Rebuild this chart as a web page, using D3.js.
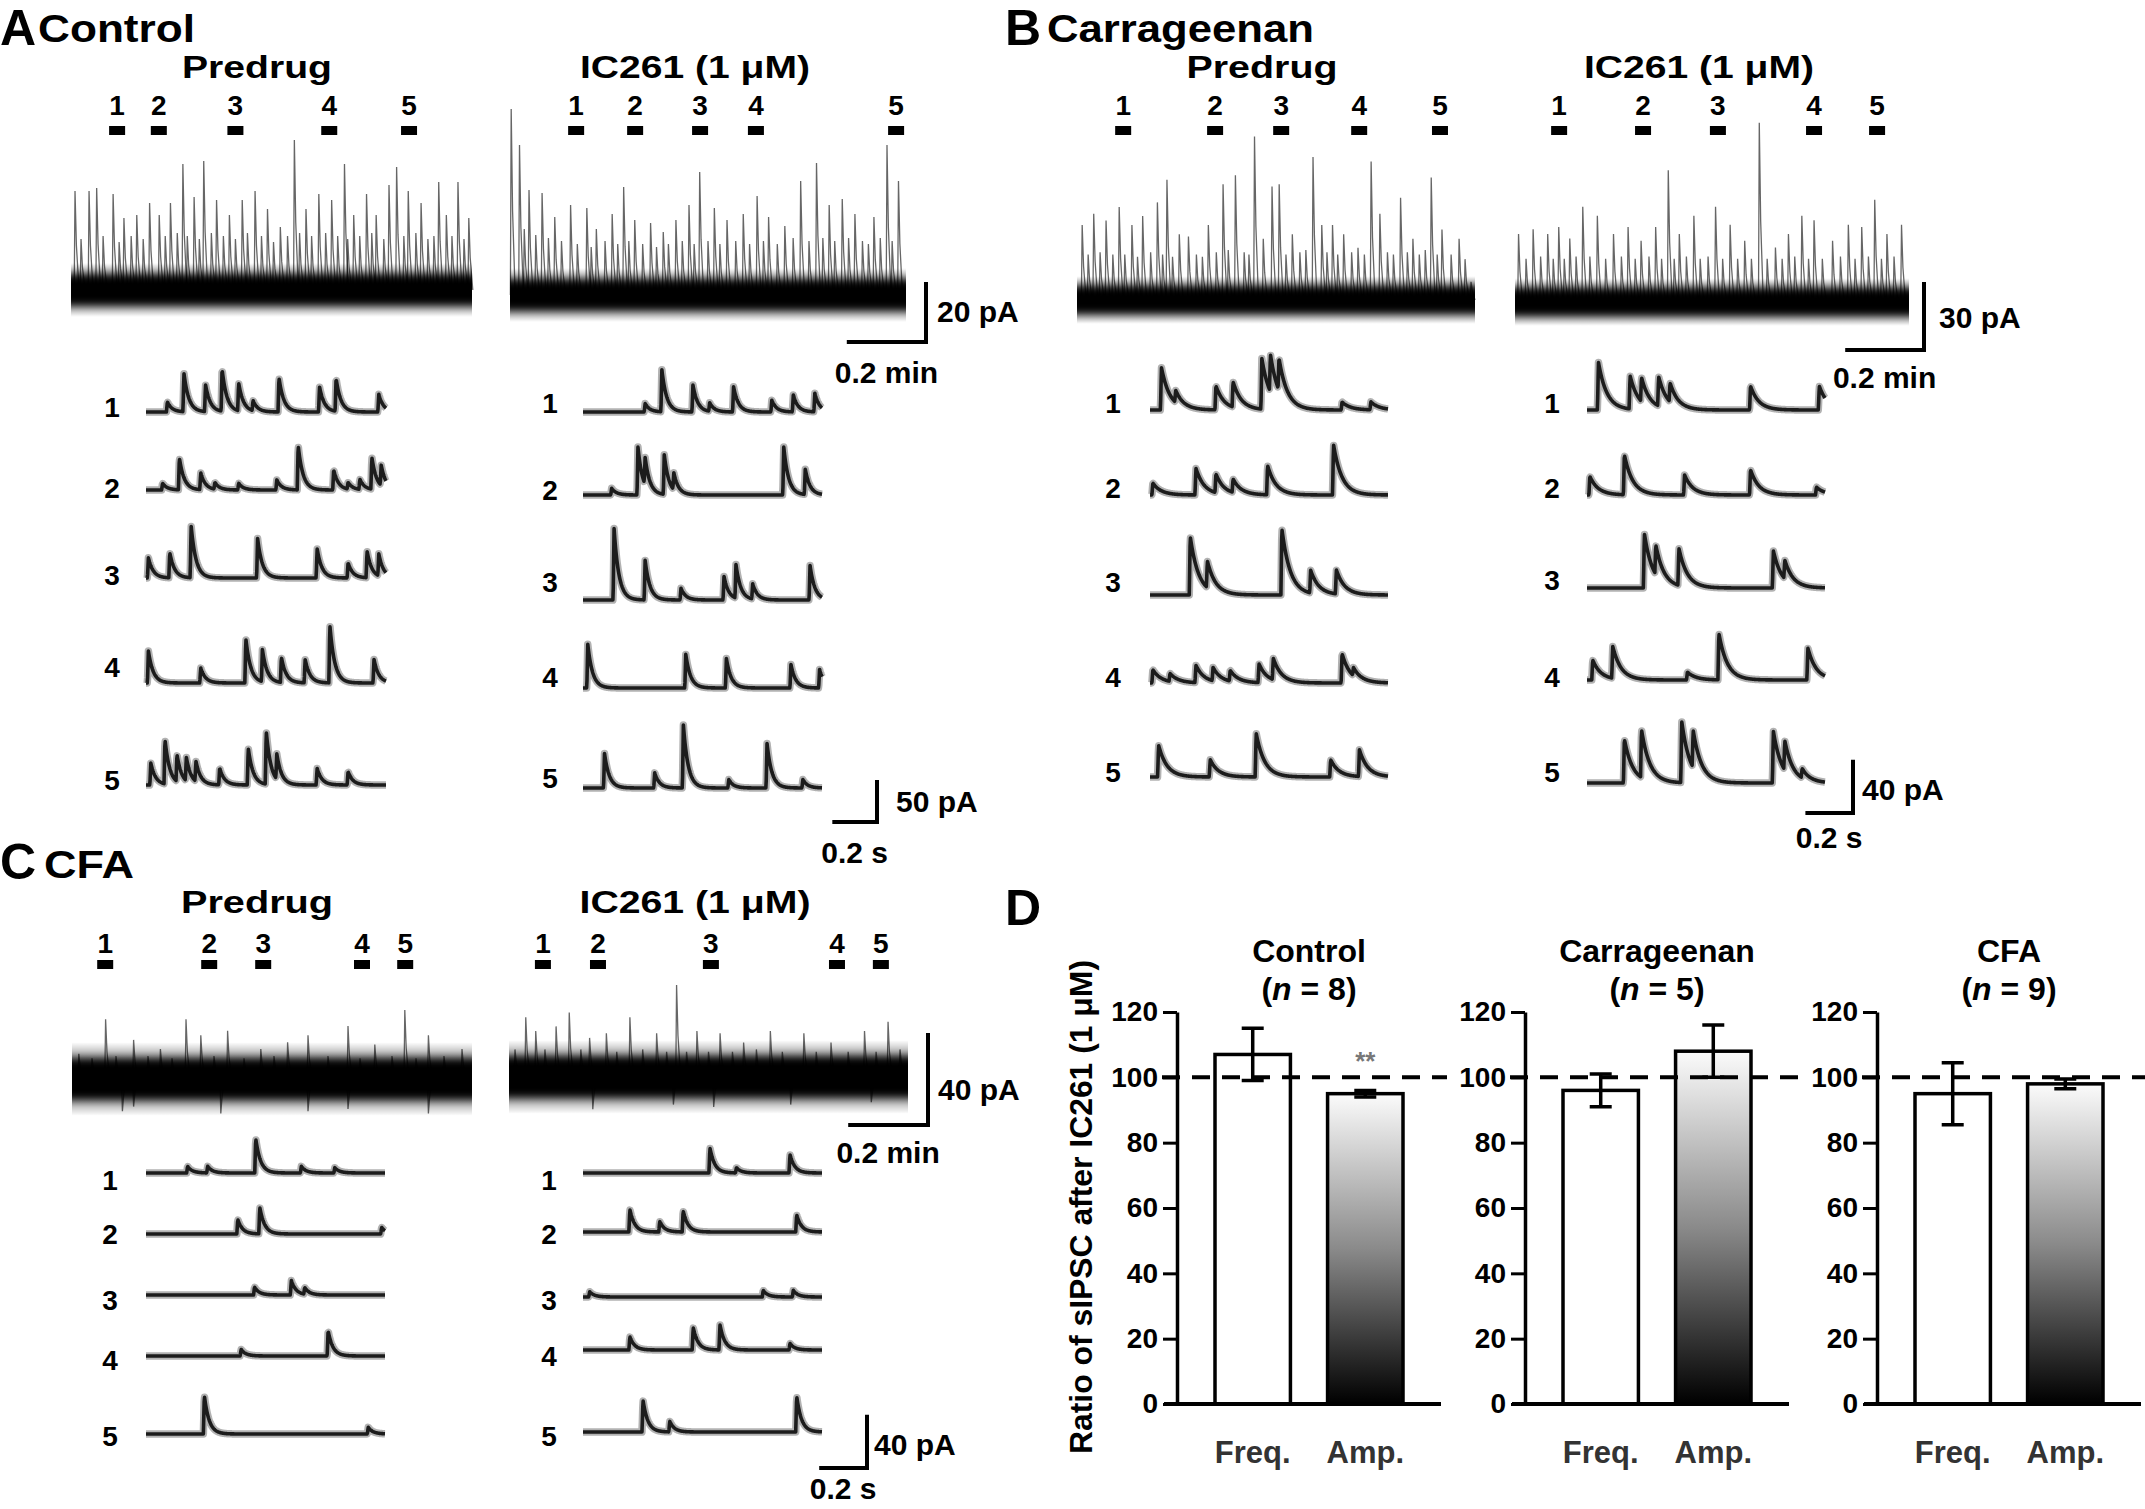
<!DOCTYPE html>
<html><head><meta charset="utf-8">
<script src="https://cdn.jsdelivr.net/npm/d3@7"></script>
<style>body{margin:0;background:#fff}</style>
</head><body>
<script>
// ================= DATA =================
// Panel D: ratio of sIPSC after IC261 (1 uM), % of predrug
const groupNames = ["Control", "Carrageenan", "CFA"];
const groupN = [8, 5, 9];
const barLabels = ["Freq.", "Amp."];
const freqMean = [107, 96, 95];
const freqSem = [8, 5, 9.5];
const ampMean = [95, 108, 98];
const ampSem = [1, 8, 1.5];
const ampSig = ["**", "", ""];
const ratioTicks = [0, 20, 40, 60, 80, 100, 120];

// segment markers (position along the 1-min sweep, min)
const markerLabels = ["1", "2", "3", "4", "5"];
const markA_pre = [0.115, 0.219, 0.41, 0.644, 0.843];
const markA_ic  = [0.167, 0.316, 0.48, 0.621, 0.975];
const markB_pre = [0.116, 0.347, 0.513, 0.709, 0.912];
const markB_ic  = [0.112, 0.325, 0.515, 0.759, 0.919];
const markC_pre = [0.083, 0.343, 0.478, 0.725, 0.833];
const markC_ic  = [0.085, 0.223, 0.506, 0.822, 0.932];

// long sweeps: [time (min), peak pA above baseline]
const longA_pre = [[0.01,33],[0.025,17],[0.045,33],[0.064,34],[0.08,18],[0.105,32],[0.12,16],[0.132,24],[0.15,18],[0.164,25],[0.18,17],[0.196,29],[0.22,25],[0.235,18],[0.248,29],[0.265,19],[0.279,42],[0.29,18],[0.307,31],[0.32,17],[0.331,43],[0.35,19],[0.363,30],[0.38,18],[0.395,25],[0.41,17],[0.427,30],[0.44,19],[0.459,33],[0.475,18],[0.49,27],[0.505,16],[0.522,21],[0.54,18],[0.557,50],[0.57,19],[0.586,27],[0.6,18],[0.618,32],[0.635,19],[0.65,30],[0.665,18],[0.682,42],[0.69,17],[0.705,25],[0.72,18],[0.737,32],[0.75,19],[0.761,25],[0.78,17],[0.793,35],[0.812,41],[0.83,18],[0.841,33],[0.86,19],[0.873,29],[0.89,17],[0.905,18],[0.917,36],[0.936,25],[0.95,18],[0.965,36],[0.98,17],[0.992,24]];
const longA_ic = [[0.003,62],[0.024,50],[0.036,22],[0.048,35],[0.065,20],[0.081,34],[0.097,19],[0.113,26],[0.13,18],[0.153,30],[0.17,17],[0.194,29],[0.205,16],[0.218,22],[0.24,18],[0.258,27],[0.272,17],[0.287,36],[0.3,18],[0.315,25],[0.335,17],[0.355,24],[0.37,16],[0.387,21],[0.4,17],[0.419,25],[0.435,18],[0.452,30],[0.465,17],[0.479,41],[0.5,18],[0.516,29],[0.53,17],[0.548,25],[0.57,18],[0.589,27],[0.605,17],[0.624,33],[0.64,18],[0.653,26],[0.675,17],[0.694,23],[0.715,19],[0.734,38],[0.755,18],[0.774,44],[0.79,19],[0.806,30],[0.82,18],[0.839,32],[0.855,19],[0.871,27],[0.89,18],[0.905,17],[0.919,26],[0.935,19],[0.952,50],[0.965,18],[0.981,38]];
const longB_pre = [[0.013,33],[0.028,20],[0.042,38],[0.058,21],[0.073,35],[0.09,20],[0.106,41],[0.12,20],[0.138,33],[0.152,19],[0.165,37],[0.185,21],[0.202,43],[0.215,20],[0.226,53],[0.24,19],[0.257,29],[0.28,28],[0.3,20],[0.315,19],[0.33,33],[0.35,21],[0.367,51],[0.38,22],[0.398,55],[0.42,21],[0.432,20],[0.446,72],[0.468,27],[0.49,50],[0.508,51],[0.525,20],[0.541,29],[0.56,21],[0.575,22],[0.593,63],[0.615,33],[0.628,21],[0.642,33],[0.655,20],[0.67,29],[0.69,21],[0.706,23],[0.722,20],[0.739,61],[0.761,38],[0.78,21],[0.795,20],[0.813,45],[0.83,21],[0.844,27],[0.86,20],[0.875,22],[0.89,54],[0.905,20],[0.917,31],[0.94,20],[0.96,27],[0.975,18],[0.99,8]];
const longB_ic = [[0.009,30],[0.028,19],[0.046,32],[0.065,20],[0.083,30],[0.097,19],[0.111,33],[0.125,19],[0.139,28],[0.155,20],[0.172,42],[0.19,20],[0.209,38],[0.23,19],[0.25,30],[0.27,20],[0.287,33],[0.305,19],[0.32,27],[0.34,20],[0.357,33],[0.372,19],[0.389,58],[0.404,19],[0.417,30],[0.435,20],[0.454,38],[0.47,19],[0.49,20],[0.509,42],[0.527,19],[0.546,34],[0.565,19],[0.583,27],[0.6,19],[0.62,79],[0.64,19],[0.661,24],[0.678,19],[0.694,30],[0.71,20],[0.728,38],[0.745,19],[0.759,36],[0.78,19],[0.806,27],[0.826,20],[0.846,34],[0.863,19],[0.88,33],[0.897,20],[0.913,45],[0.93,19],[0.944,30],[0.962,20],[0.981,34]];
const longC_pre = [[0.017,11],[0.05,9],[0.084,26],[0.11,10],[0.126,-14],[0.154,17],[0.154,-12],[0.19,10],[0.221,13],[0.25,9],[0.285,26],[0.322,19],[0.355,10],[0.372,-15],[0.389,21],[0.43,9],[0.472,13],[0.505,10],[0.539,16],[0.59,19],[0.59,-14],[0.64,10],[0.69,23],[0.69,-13],[0.72,9],[0.757,15],[0.8,10],[0.832,30],[0.86,9],[0.891,19],[0.891,-15],[0.93,10],[0.975,13]];
const longC_ic = [[0.015,12],[0.042,26],[0.067,20],[0.09,12],[0.118,22],[0.151,28],[0.18,12],[0.202,17],[0.21,-14],[0.244,19],[0.27,11],[0.303,26],[0.335,12],[0.37,19],[0.395,11],[0.412,-12],[0.42,40],[0.445,11],[0.471,20],[0.5,11],[0.513,-13],[0.529,19],[0.56,11],[0.588,15],[0.62,12],[0.655,20],[0.685,11],[0.706,-12],[0.739,19],[0.77,11],[0.807,15],[0.85,11],[0.891,20],[0.908,-11],[0.92,11],[0.95,24],[0.98,12]];

// expanded 1-s segments: per segment [[time fraction, amplitude pA], ...]
const shortA_pre = [
  [[0.089,12],[0.158,46],[0.248,32],[0.317,50],[0.386,33],[0.446,12],[0.554,41],[0.723,30],[0.792,39],[0.97,21]],
  [[0.069,8],[0.139,38],[0.228,20],[0.287,8],[0.386,8],[0.545,12],[0.634,53],[0.782,24],[0.842,8],[0.891,12],[0.941,38],[0.98,24]],
  [[0.01,24],[0.099,30],[0.188,62],[0.465,47],[0.713,35],[0.842,18],[0.921,32],[0.97,26]],
  [[0.01,38],[0.228,18],[0.416,53],[0.485,38],[0.564,30],[0.663,28],[0.766,69],[0.95,28]],
  [[0.02,26],[0.079,53],[0.129,32],[0.168,28],[0.208,24],[0.307,20],[0.426,44],[0.501,63],[0.545,30],[0.713,20],[0.842,16]]
];
const shortA_ic = [
  [[0.26,10],[0.33,50],[0.46,32],[0.53,10],[0.63,30],[0.79,14],[0.88,20],[0.97,22]],
  [[0.12,8],[0.23,57],[0.26,32],[0.34,47],[0.38,20],[0.84,57],[0.93,30]],
  [[0.13,85],[0.26,47],[0.41,14],[0.59,28],[0.64,40],[0.71,18],[0.95,41]],
  [[0.02,52],[0.43,40],[0.6,35],[0.87,28],[0.99,22]],
  [[0.09,41],[0.3,18],[0.42,75],[0.61,10],[0.77,53],[0.92,10]]
];
const shortB_pre = [
  [[0.048,32],[0.108,9],[0.277,18],[0.349,19],[0.47,38],[0.506,28],[0.542,24],[0.807,6],[0.928,6]],
  [[0.012,9],[0.193,20],[0.277,14],[0.349,10],[0.494,22],[0.771,38]],
  [[0.169,44],[0.241,20],[0.554,50],[0.675,17],[0.783,18]],
  [[0.012,10],[0.084,6],[0.193,13],[0.265,10],[0.337,8],[0.458,14],[0.518,16],[0.807,22],[0.855,6]],
  [[0.036,24],[0.253,13],[0.446,33],[0.759,13],[0.88,20]]
];
const shortB_ic = [
  [[0.048,36],[0.181,25],[0.229,18],[0.301,22],[0.349,14],[0.687,18],[0.976,18]],
  [[0.012,14],[0.157,30],[0.41,15],[0.687,19],[0.964,6]],
  [[0.241,41],[0.289,22],[0.386,28],[0.783,28],[0.831,14]],
  [[0.024,15],[0.108,24],[0.422,6],[0.554,35],[0.928,24]],
  [[0.157,33],[0.229,36],[0.398,46],[0.446,28],[0.783,39],[0.831,22],[0.904,7]]
];
const shortC_pre = [
  [[0.174,5],[0.258,5],[0.459,26],[0.65,5],[0.79,4]],
  [[0.384,11],[0.476,20],[0.986,5]],
  [[0.454,6],[0.608,11],[0.664,5]],
  [[0.398,5],[0.762,19]],
  [[0.244,29],[0.93,5]]
];
const shortC_ic = [
  [[0.531,19],[0.642,4],[0.866,14]],
  [[0.196,17],[0.321,8],[0.419,16],[0.894,13]],
  [[0.028,4],[0.754,5],[0.88,5]],
  [[0.196,10],[0.461,17],[0.573,19],[0.866,5]],
  [[0.251,24],[0.363,8],[0.894,27]]
];

// ================= DRAWING =================
const W = 2145, H = 1509;
const FONT = "'Liberation Sans', Arial, Helvetica, sans-serif";
const svg = d3.select("body").append("svg")
  .attr("width", W).attr("height", H)
  .style("font-family", FONT).style("font-weight", "bold");

const defs = svg.append("defs");
const band = defs.append("linearGradient").attr("id", "bandGrad")
  .attr("x1", 0).attr("y1", 0).attr("x2", 0).attr("y2", 1);
[[0, 0], [0.2, 0.35], [0.4, 0.8], [0.6, 0.8], [0.8, 0.35], [1, 0]].forEach(([o, a]) =>
  band.append("stop").attr("offset", o).attr("stop-color", "#000").attr("stop-opacity", a));
const ampGrad = defs.append("linearGradient").attr("id", "ampGrad")
  .attr("x1", 0).attr("y1", 0).attr("x2", 0).attr("y2", 1);
[[0, "#fbfbfb"], [0.5, "#8a8a8a"], [1, "#000"]].forEach(([o, c]) =>
  ampGrad.append("stop").attr("offset", o).attr("stop-color", c));
defs.append("filter").attr("id", "blurY").attr("x", -0.02).attr("y", -1).attr("width", 1.04).attr("height", 3)
  .append("feGaussianBlur").attr("stdDeviation", "0.6 4");
defs.append("filter").attr("id", "soft").attr("x", -0.05).attr("y", -0.5).attr("width", 1.1).attr("height", 2)
  .append("feGaussianBlur").attr("stdDeviation", "0.7");

function txt(x, y, s, size, anchor, w) {
  const t = svg.append("text").attr("x", x).attr("y", y).attr("font-size", size)
    .attr("text-anchor", anchor || "start").attr("fill", "#000").text(s);
  if (w) t.attr("textLength", w).attr("lengthAdjust", "spacingAndGlyphs");
  return t;
}

function drawLong(c, P) {
  const xs = d3.scaleLinear().domain([0, 1]).range([c.x0, c.x1]);
  const ys = d3.scaleLinear().domain([0, 1]).range([0, P.longPx]);
  const nh = ys(P.noise);
  svg.append("rect").attr("x", c.x0).attr("y", c.yc - nh).attr("width", c.x1 - c.x0)
    .attr("height", 2 * nh).attr("fill", "url(#bandGrad)");
  svg.append("rect").attr("x", c.x0).attr("y", c.yc - nh * 0.55).attr("width", c.x1 - c.x0)
    .attr("height", nh * 1.1).attr("fill", "#000").attr("filter", "url(#blurY)");
  const g = svg.append("g").attr("fill", "none").attr("stroke", "#000")
    .attr("stroke-width", 1.3).attr("stroke-opacity", 0.6);
  c.spikes.forEach(([t, a]) => {
    const x = xs(t), h = ys(a);
    const p = d3.path();
    p.moveTo(x - 0.8, c.yc);
    p.lineTo(x, c.yc - h);
    p.lineTo(x + 1.4, c.yc - h * 0.45);
    p.lineTo(x + 4, c.yc);
    g.append("path").attr("d", p.toString());
  });
  // markers
  c.marks.forEach((t, i) => {
    txt(xs(t), P.numY, markerLabels[i], 28, "middle");
    svg.append("rect").attr("x", xs(t) - 8).attr("y", P.dashY).attr("width", 16)
      .attr("height", 9).attr("fill", "#000");
  });
  return xs;
}

function drawShort(events, x0, x1, yb, P) {
  const xs = d3.scaleLinear().domain([0, 1]).range([x0, x1]);
  const ys = d3.scaleLinear().domain([0, 1]).range([0, P.shortPx]);
  const n = 600, pts = [];
  for (let i = 0; i <= n; i++) {
    const t = i / n;
    let v = 0;
    events.forEach(([t0, a]) => {
      const d = t - t0;
      if (d >= 0) v += a * Math.exp(-d / P.tau);
      else if (d > -0.004) v += a * (1 + d / 0.004);
    });
    pts.push([xs(t), yb - ys(v)]);
  }
  const d = d3.line()(pts);
  svg.append("path").attr("d", d).attr("fill", "none")
    .attr("stroke", "#000").attr("stroke-opacity", 0.3).attr("stroke-width", 7.5)
    .attr("stroke-linejoin", "round").attr("filter", "url(#soft)");
  svg.append("path").attr("d", d).attr("fill", "none")
    .attr("stroke", "#1c1c1c").attr("stroke-width", 3.6).attr("stroke-linejoin", "round");
}

function scaleBar(x, y, wpx, hpx, lab1, l1x, l1y, lab2, l2y, size) {
  svg.append("path").attr("d", `M${x - wpx},${y} L${x},${y} L${x},${y - hpx}`)
    .attr("fill", "none").attr("stroke", "#000").attr("stroke-width", 4);
  txt(l1x, l1y, lab1, size, "start");
  txt(x - wpx / 2, l2y, lab2, size, "middle");
}

const panels = [
  { letter: "A", lx: 0, ly: 45, name: "Control", nx: 38, ny: 42, nw: 157, titleY: 78, numY: 115, dashY: 126,
    longPx: 3, noise: 9, longBar: { x: 926, y: 342, pa: 20, l1x: 937, l1y: 322, l2y: 383 },
    shortPx: 0.84, tau: 0.02, dur: 1.07, shortBar: { x: 877, y: 822, pa: 50, l1x: 896, l1y: 812, l2y: 863 },
    cols: [
      { title: "Predrug", tcx: 257, tw: 150, x0: 71, x1: 472, yc: 290, marks: markA_pre, spikes: longA_pre,
        sx0: 146, sx1: 386, labX: 112, bases: [412, 490, 578, 683, 785], labYs: [407, 488, 575, 667, 780], shorts: shortA_pre },
      { title: "IC261 (1 μM)", tcx: 695, tw: 230, x0: 510, x1: 906, yc: 295, marks: markA_ic, spikes: longA_ic,
        sx0: 583, sx1: 822, labX: 550, bases: [412, 495, 600, 688, 788], labYs: [403, 490, 582, 677, 778], shorts: shortA_ic }
    ] },
  { letter: "B", lx: 1005, ly: 45, name: "Carrageenan", nx: 1047, ny: 42, nw: 267, titleY: 78, numY: 115, dashY: 126,
    longPx: 2.27, noise: 10.5, longBar: { x: 1924, y: 350, pa: 30, l1x: 1939, l1y: 328, l2y: 388 },
    shortPx: 1.33, tau: 0.035, dur: 1.0, shortBar: { x: 1853, y: 813, pa: 40, l1x: 1862, l1y: 800, l2y: 848 },
    cols: [
      { title: "Predrug", tcx: 1262, tw: 151, x0: 1077, x1: 1475, yc: 300, marks: markB_pre, spikes: longB_pre,
        sx0: 1150, sx1: 1388, labX: 1113, bases: [410, 495, 595, 683, 777], labYs: [403, 488, 582, 677, 772], shorts: shortB_pre },
      { title: "IC261 (1 μM)", tcx: 1699, tw: 230, x0: 1515, x1: 1909, yc: 302, marks: markB_ic, spikes: longB_ic,
        sx0: 1587, sx1: 1825, labX: 1552, bases: [410, 495, 588, 680, 783], labYs: [403, 488, 580, 677, 772], shorts: shortB_ic }
    ] },
  { letter: "C", lx: 0, ly: 879, name: "CFA", nx: 44, ny: 878, nw: 90, titleY: 913, numY: 953, dashY: 960,
    longPx: 2.3, noise: 16, longBar: { x: 928, y: 1125, pa: 40, l1x: 938, l1y: 1100, l2y: 1163 },
    shortPx: 1.33, tau: 0.02, dur: 1.0, shortBar: { x: 867, y: 1468, pa: 40, l1x: 874, l1y: 1455, l2y: 1499 },
    cols: [
      { title: "Predrug", tcx: 257, tw: 152, x0: 72, x1: 472, yc: 1079, marks: markC_pre, spikes: longC_pre,
        sx0: 146, sx1: 385, labX: 110, bases: [1173, 1234, 1295, 1356, 1434], labYs: [1180, 1234, 1300, 1360, 1436], shorts: shortC_pre },
      { title: "IC261 (1 μM)", tcx: 695, tw: 231, x0: 509, x1: 908, yc: 1077, marks: markC_ic, spikes: longC_ic,
        sx0: 583, sx1: 822, labX: 549, bases: [1173, 1232, 1297, 1350, 1432], labYs: [1180, 1234, 1300, 1356, 1436], shorts: shortC_ic }
    ] }
];

panels.forEach(P => {
  txt(P.lx, P.ly, P.letter, 50, "start");
  txt(P.nx, P.ny, P.name, 38, "start", P.nw);
  let lastXs = null;
  P.cols.forEach(c => {
    txt(c.tcx, P.titleY, c.title, 32, "middle", c.tw);
    lastXs = drawLong(c, P);
    c.shorts.forEach((ev, i) => {
      txt(c.labX, c.labYs[i] + 10, markerLabels[i], 28, "middle");
      drawShort(ev, c.sx0, c.sx1, c.bases[i], P);
    });
  });
  const lb = P.longBar;
  const lw = lastXs(0.2) - lastXs(0);
  scaleBar(lb.x, lb.y, lw, lb.pa * P.longPx, lb.pa + " pA", lb.l1x, lb.l1y, "0.2 min", lb.l2y, 30);
  const sb = P.shortBar;
  const c0 = P.cols[1];
  const sw = (c0.sx1 - c0.sx0) * 0.2 / P.dur;
  scaleBar(sb.x, sb.y, sw, sb.pa * P.shortPx, sb.pa + " pA", sb.l1x, sb.l1y, "0.2 s", sb.l2y, 30);
});

// ================= PANEL D =================
txt(1005, 925, "D", 50, "start");
const yR = d3.scaleLinear().domain([0, 120]).range([1404, 1012]);
const axisXs = [1177, 1525, 1877];

svg.append("text").attr("transform", "translate(1092,1207) rotate(-90)")
  .attr("text-anchor", "middle").attr("font-size", 32).attr("fill", "#000")
  .attr("textLength", 494).attr("lengthAdjust", "spacingAndGlyphs")
  .text("Ratio of sIPSC after IC261 (1 μM)");

groupNames.forEach((gname, i) => {
  const ax = axisXs[i];
  const xb = d3.scaleBand().domain(barLabels).range([ax + 38, ax + 226]).paddingInner(0.33).paddingOuter(0);
  const cx = ax + 132;
  txt(cx, 962, gname, 32, "middle");
  const nt = svg.append("text").attr("x", cx).attr("y", 1000).attr("font-size", 32)
    .attr("text-anchor", "middle").attr("fill", "#000");
  nt.append("tspan").text("(");
  nt.append("tspan").attr("font-style", "italic").text("n");
  nt.append("tspan").text(" = " + groupN[i] + ")");

  // y axis
  const ag = svg.append("g").attr("transform", `translate(${ax},0)`)
    .call(d3.axisLeft(yR).tickValues(ratioTicks).tickSize(14).tickSizeOuter(0).tickPadding(5));
  ag.select(".domain").attr("stroke-width", 3.5).attr("stroke", "#000");
  ag.selectAll(".tick line").attr("stroke-width", 3).attr("stroke", "#000");
  ag.selectAll(".tick text").attr("font-size", 28).attr("font-family", FONT)
    .attr("font-weight", "bold").attr("fill", "#000");

  const vals = [freqMean[i], ampMean[i]];
  const sems = [freqSem[i], ampSem[i]];
  barLabels.forEach((b, j) => {
    const x = xb(b), bw = xb.bandwidth();
    svg.append("rect").attr("x", x).attr("y", yR(vals[j])).attr("width", bw)
      .attr("height", yR(0) - yR(vals[j]))
      .attr("fill", j === 0 ? "#fff" : "url(#ampGrad)")
      .attr("stroke", "#000").attr("stroke-width", 3.5);
    const mx = x + bw / 2;
    const top = yR(vals[j] + sems[j]), bot = yR(vals[j] - sems[j]);
    svg.append("path").attr("d", `M${mx},${top} L${mx},${bot} M${mx - 11},${top} L${mx + 11},${top} M${mx - 11},${bot} L${mx + 11},${bot}`)
      .attr("fill", "none").attr("stroke", "#000").attr("stroke-width", 3.5);
    txt(mx, 1463, b, 31, "middle").attr("fill", "#333");
  });
  if (ampSig[i]) {
    const xA = xb("Amp.") + xb.bandwidth() / 2;
    txt(xA, yR(ampMean[i] + ampSem[i]) - 20, ampSig[i], 26, "middle").attr("fill", "#777");
  }
  // x axis line
  svg.append("line").attr("x1", ax - 13).attr("x2", ax + 264).attr("y1", yR(0)).attr("y2", yR(0))
    .attr("stroke", "#000").attr("stroke-width", 4);
  // reference line at 100 % (gap before the next panel's tick labels)
  const xEnd = i < axisXs.length - 1 ? axisXs[i + 1] - 78 : W;
  svg.append("line").attr("x1", ax - 15).attr("x2", xEnd).attr("y1", yR(100)).attr("y2", yR(100))
    .attr("stroke", "#000").attr("stroke-width", 4).attr("stroke-dasharray", "18 12");
});
</script>
</body></html>
